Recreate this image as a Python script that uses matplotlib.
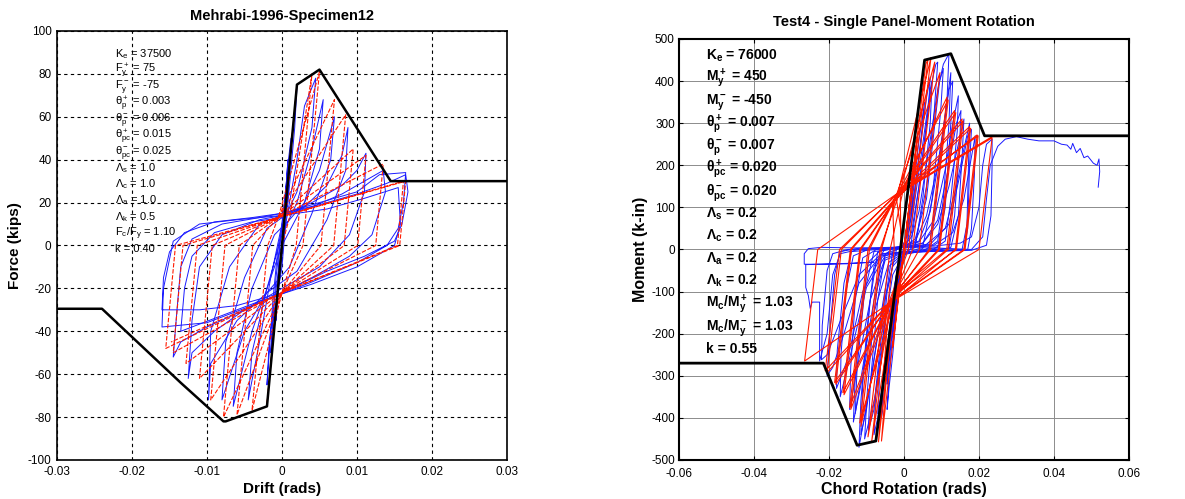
import matplotlib
matplotlib.use("Agg")
import matplotlib.pyplot as plt

plt.rcParams['font.family'] = ['Liberation Sans', 'DejaVu Sans']
plt.rcParams['mathtext.default'] = 'regular'
plt.rcParams['axes.unicode_minus'] = False

# --- Mehrabi-1996-Specimen12 -------------------------------------------
left_backbone_x = [-0.03, -0.024, -0.0135, -0.0078, -0.0075, -0.002, 0.002, 0.005, 0.0145, 0.03]
left_backbone_y = [-29.5, -29.5, -64, -82, -82, -75, 75, 82, 30, 30]

# experimental loops (blue), one list per cycle
left_blue = [
    [(0, 0), (0.0004, 20), (0.0008, 40), (0.0006, 30), (0.0, 10), (-0.0004, -5), (-0.0008, -35),
     (-0.0006, -25), (0.0, -5), (0.0004, 15)],
    [(0.0004, 15), (0.0008, 38), (0.0012, 50), (0.0011, 40), (0.0, 10), (-0.0008, -15), (-0.0015, -50),
     (-0.0012, -35), (0.0, -10), (0.0006, 15)],
    [(0.0006, 15), (0.0012, 45), (0.002, 74), (0.0017, 55), (0.0008, 20), (-0.0005, 0), (-0.0012, -25),
     (-0.002, -65), (-0.0017, -45), (-0.0006, -15), (0.0005, 10)],
    [(0.0005, 10), (0.002, 40), (0.003, 65), (0.0045, 78), (0.004, 55), (0.002, 25), (0.0, 10),
     (-0.0015, -15), (-0.003, -45), (-0.0045, -72), (-0.004, -50), (-0.002, -20), (0.0, 5)],
    [(0.0, 5), (0.002, 20), (0.004, 45), (0.0055, 68), (0.005, 45), (0.003, 20), (0.0, 0), (-0.002, -20),
     (-0.004, -40), (-0.0065, -75), (-0.006, -50), (-0.004, -20), (-0.001, 5), (0.001, 12)],
    [(0.001, 12), (0.003, 20), (0.005, 35), (0.007, 60), (0.0065, 40), (0.004, 15), (0.001, -10),
     (-0.002, -22), (-0.005, -40), (-0.008, -72), (-0.0075, -45), (-0.005, -15), (-0.002, 8), (0.0, 13)],
    [(0.0, 13), (0.003, 18), (0.006, 28), (0.008, 42), (0.0088, 55), (0.0085, 35), (0.006, 12),
     (0.002, -12), (-0.002, -22), (-0.006, -35), (-0.0095, -55), (-0.0098, -72), (-0.0095, -40),
     (-0.007, -10), (-0.003, 10), (0.0, 14)],
    [(0.0, 14), (0.004, 20), (0.008, 28), (0.010, 35), (0.0112, 43), (0.011, 25), (0.009, 5),
     (0.005, -10), (0.0, -20), (-0.005, -30), (-0.009, -40), (-0.012, -50), (-0.0125, -62),
     (-0.012, -35), (-0.011, -10), (-0.008, 5), (-0.003, 12), (0.0, 14)],
    [(0.0, 14), (0.004, 18), (0.008, 24), (0.011, 30), (0.0135, 35), (0.0138, 25), (0.012, 5),
     (0.009, -5), (0.004, -15), (0.0, -22), (-0.005, -30), (-0.010, -38), (-0.0135, -45),
     (-0.0145, -52), (-0.014, -30), (-0.0135, -10), (-0.012, 3), (-0.008, 10), (-0.003, 13), (0.0, 15)],
    [(0.0, 15), (0.005, 19), (0.010, 24), (0.014, 29), (0.0165, 33), (0.0168, 25), (0.016, 10),
     (0.015, 2), (0.011, -5), (0.006, -12), (0.0, -22), (-0.006, -28), (-0.011, -30), (-0.016, -30),
     (-0.0158, -15), (-0.015, -3), (-0.013, 6), (-0.009, 11), (-0.004, 13), (0.0, 15), (0.005, 20),
     (0.010, 25), (0.013, 33), (0.0165, 34), (0.0162, 20), (0.0155, 8), (0.014, 0), (0.01, -8),
     (0.004, -17), (-0.004, -28), (-0.01, -36), (-0.016, -38), (-0.0158, -20)],
    [(-0.0158, -20), (-0.0145, 2), (-0.011, 10), (-0.006, 12), (0.0, 14), (0.006, 17), (0.011, 22),
     (0.0155, 27), (0.0158, 10), (0.015, 0), (0.01, -10), (0.004, -18), (-0.003, -26), (-0.009, -34),
     (-0.0135, -40), (-0.013, -20), (-0.012, -5), (-0.009, 6), (-0.004, 11), (0.0, 13)],
]

# model (red, dashed)
left_red = [
    (0.0, 0), (0.002, 75), (0.0, 0), (-0.002, -74), (0.0, 0), (0.001, 13), (0.004, 80), (0.0019, 0),
    (0.0, -22), (-0.004, -77), (-0.0019, 0), (-0.0005, 13), (0.005, 81), (0.0028, 0), (0.0, -22),
    (-0.006, -79), (-0.0039, 0), (-0.0005, 13), (0.007, 68), (0.0052, 0), (0.0, -22), (-0.0078, -80),
    (-0.0057, 0), (-0.0005, 13), (0.0085, 61), (0.0069, 0), (0.0, -22), (-0.0095, -72), (-0.0076, 0),
    (-0.0005, 13), (0.0095, 45), (0.0083, 0), (0.0, -22), (-0.011, -62), (-0.0093, 0), (-0.0005, 13),
    (0.0112, 42), (0.0101, 0), (0.0, -22), (-0.0128, -55), (-0.0113, 0), (-0.0005, 13), (0.0135, 38),
    (0.0125, 0), (0.0, -22), (-0.0145, -50), (-0.0132, 0), (-0.0005, 13), (0.0165, 30), (0.0157, 0),
    (0.0, -22), (-0.0155, -48), (-0.0142, 0), (-0.0005, 13), (0.0162, 30), (0.0154, 0), (0.0, -22),
    (-0.0148, -45),
]

left_labels = [r'K$_e$ = 37500', r'F$^+_y$ = 75', r'F$^-_y$ = -75', r'θ$^+_p$ = 0.003',
               r'θ$^-_p$ = 0.006', r'θ$^+_{pc}$ = 0.015', r'θ$^-_{pc}$ = 0.025', r'Λ$_s$ = 1.0',
               r'Λ$_c$ = 1.0', r'Λ$_a$ = 1.0', r'Λ$_k$ = 0.5', r'F$_c$/F$_y$ = 1.10', 'k = 0.40']

# --- Test4 - Single Panel-Moment Rotation -------------------------------
right_backbone_x = [-0.06, -0.0215, -0.0125, -0.0075, 0.0055, 0.0125, 0.0215, 0.06]
right_backbone_y = [-270, -270, -465, -455, 450, 465, 270, 270]

right_blue = [
    [(0, 0), (0.001, 60), (0.002, 130), (0.003, 200), (0.002, 120), (0.0, 0), (-0.0015, -100),
     (-0.003, -200), (-0.002, -120), (0.0, 0)],
    [(0.0, 0), (0.002, 100), (0.004, 260), (0.0055, 350), (0.005, 300), (0.003, 150), (0.001, 20),
     (-0.001, -30), (-0.003, -180), (-0.0045, -320), (-0.004, -250), (-0.002, -100), (0.0, 10)],
    [(0.0, 10), (0.002, 80), (0.004, 220), (0.006, 360), (0.007, 410), (0.0065, 330), (0.004, 150),
     (0.002, 20), (0.0, -20), (-0.002, -100), (-0.004, -250), (-0.0055, -360), (-0.006, -400),
     (-0.0055, -320), (-0.003, -120), (-0.001, 0), (0.0, 15)],
    [(0.0, 5), (0.002, 40), (0.004, 150), (0.006, 300), (0.0075, 400), (0.007, 300), (0.005, 120),
     (0.003, 5), (0.0, -8), (-0.002, -60), (-0.004, -200), (-0.006, -340), (-0.007, -390),
     (-0.0065, -300), (-0.0045, -100), (-0.002, 0), (0.0, 6)],
    [(0.0, 15), (0.002, 60), (0.005, 250), (0.007, 380), (0.0085, 440), (0.009, 445), (0.008, 320),
     (0.006, 150), (0.003, 10), (0.0, -10), (-0.002, -80), (-0.005, -280), (-0.007, -400),
     (-0.008, -440), (-0.0075, -330), (-0.005, -120), (-0.003, -5), (0.0, 8)],
    [(0.0, 6), (0.003, 25), (0.006, 120), (0.008, 280), (0.0095, 400), (0.0105, 430), (0.0098, 330),
     (0.0075, 120), (0.005, 5), (0.0, -10), (-0.003, -60), (-0.006, -230), (-0.008, -380),
     (-0.0095, -430), (-0.009, -320), (-0.007, -120), (-0.005, -10), (0.0, 7)],
    [(0.0, 8), (0.002, 30), (0.004, 90), (0.007, 260), (0.009, 380), (0.0105, 440), (0.012, 465),
     (0.0115, 360), (0.009, 150), (0.007, 20), (0.004, -5), (0.0, -12), (-0.002, -60), (-0.005, -200),
     (-0.008, -360), (-0.0105, -450), (-0.0098, -340), (-0.008, -150), (-0.006, -20), (-0.003, 3),
     (0.0, 10)],
    [(0.0, 7), (0.004, 20), (0.007, 90), (0.010, 250), (0.012, 380), (0.013, 400), (0.0125, 300),
     (0.011, 100), (0.009, 5), (0.0, -8), (-0.004, -40), (-0.007, -200), (-0.01, -380),
     (-0.0115, -440), (-0.011, -320), (-0.009, -120), (-0.007, -5), (0.0, 6)],
    [(0.0, 10), (0.003, 20), (0.006, 80), (0.009, 200), (0.011, 320), (0.0125, 420), (0.012, 300),
     (0.0105, 120), (0.009, 20), (0.005, -5), (0.0, -10), (-0.003, -40), (-0.006, -150),
     (-0.009, -320), (-0.012, -470), (-0.0115, -360), (-0.010, -200), (-0.008, -40), (-0.005, 2),
     (0.0, 8)],
    [(0.0, 8), (0.004, 18), (0.008, 70), (0.011, 190), (0.013, 300), (0.0145, 365), (0.0142, 280),
     (0.0125, 120), (0.011, 20), (0.007, -5), (0.0, -8), (-0.004, -30), (-0.008, -150),
     (-0.011, -300), (-0.0135, -410), (-0.013, -300), (-0.0115, -150), (-0.0095, -30), (-0.006, 0),
     (0.0, 6)],
    [(0.0, 6), (0.005, 15), (0.009, 70), (0.012, 200), (0.014, 300), (0.0152, 330), (0.0148, 240),
     (0.0135, 80), (0.012, 3), (0.0, -7), (-0.005, -25), (-0.008, -120), (-0.011, -280),
     (-0.013, -390), (-0.0125, -280), (-0.0105, -100), (-0.008, -5), (0.0, 5)],
    [(0.0, 6), (0.005, 15), (0.009, 60), (0.012, 150), (0.0145, 250), (0.016, 310), (0.0155, 220),
     (0.0145, 80), (0.0125, 5), (0.008, -4), (0.0, -6), (-0.005, -20), (-0.009, -120), (-0.012, -260),
     (-0.0145, -380), (-0.0142, -280), (-0.013, -120), (-0.011, -20), (-0.007, 2), (0.0, 5)],
    [(0.0, 5), (0.006, 12), (0.011, 50), (0.014, 150), (0.016, 240), (0.0175, 300), (0.0172, 200),
     (0.0168, 60), (0.0155, 0), (0.010, -4), (0.0, -5), (-0.005, -15), (-0.010, -90), (-0.014, -240),
     (-0.017, -350), (-0.0168, -250), (-0.0155, -100), (-0.0135, -15), (-0.009, 2), (0.0, 5)],
    [(0.0, 5), (0.007, 12), (0.012, 60), (0.015, 180), (0.017, 270), (0.018, 285), (0.0175, 200),
     (0.017, 50), (0.016, 0), (0.0, -6), (-0.006, -15), (-0.011, -100), (-0.015, -260),
     (-0.018, -330), (-0.0178, -240), (-0.016, -80), (-0.014, -5), (0.0, 5)],
    [(0.0, 5), (0.008, 10), (0.013, 40), (0.016, 120), (0.018, 220), (0.019, 270), (0.0188, 180),
     (0.018, 50), (0.017, 0), (0.012, -3), (0.0, -5), (-0.006, -12), (-0.012, -80), (-0.016, -200),
     (-0.019, -280), (-0.0205, -300), (-0.0198, -200), (-0.0185, -60), (-0.017, -5), (-0.012, 3),
     (0.0, 6)],
    [(0.0, 6), (0.008, 8), (0.015, 15), (0.018, 30), (0.02, 100), (0.021, 200), (0.022, 250),
     (0.0235, 262), (0.0235, 200), (0.0232, 80), (0.022, 10), (0.018, -2), (0.01, -4), (0.0, -6),
     (-0.006, -10), (-0.012, -60), (-0.017, -170), (-0.0205, -250), (-0.022, -262), (-0.0218, -180),
     (-0.0205, -50), (-0.019, -10), (-0.015, 0), (-0.005, 3)],
    [(-0.005, 3), (-0.015, 4), (-0.022, 5), (-0.0255, 2), (-0.0266, -10), (-0.0266, -35),
     (-0.022, -35), (-0.015, -34), (-0.008, -30), (-0.015, -33), (-0.0262, -36), (-0.0262, -90),
     (-0.0255, -110), (-0.025, -140), (-0.0245, -125), (-0.0225, -125), (-0.0225, -265),
     (-0.0205, -200), (-0.019, -60), (-0.017, -10), (-0.012, 0)],
    [(-0.012, 0), (0.0, 5), (0.01, 3), (0.018, 0), (0.021, 30), (0.022, 120), (0.023, 200),
     (0.025, 245), (0.027, 262), (0.03, 268), (0.033, 262), (0.036, 258), (0.04, 258), (0.042, 250),
     (0.0435, 248), (0.0445, 238), (0.045, 252), (0.046, 230), (0.047, 240), (0.048, 218),
     (0.049, 222), (0.0505, 205), (0.0515, 200), (0.052, 215), (0.0522, 185), (0.0518, 148)],
    [(0.0, 5), (-0.001, -50), (-0.002, -150), (-0.003, -250), (-0.004, -330), (-0.0045, -380),
     (-0.004, -300), (-0.0025, -150), (-0.001, -40), (0.0, 10), (0.002, 120), (0.003, 200)],
]

right_red = [
    (0.0, 0), (0.0035, 262), (0.0, 0), (-0.003, -232), (0.0, 0), (0.0058, 440), (0.0064, 452),
    (0.0005, 0), (-0.003, -110), (-0.006, -455), (-0.0001, 0), (-0.002, 120), (0.0072, 456),
    (0.0012, 0), (-0.004, -125), (-0.0068, -457), (-0.0008, 0), (-0.001, 140), (0.0082, 445),
    (0.0023, 0), (-0.002, -95), (-0.0086, -455), (-0.0026, 0), (-0.003, 105), (0.0096, 420),
    (0.0041, 0), (-0.003, -112), (-0.0096, -445), (-0.0037, 0), (0.0, 150), (0.0115, 362),
    (0.0067, 0), (-0.004, -125), (-0.0115, -420), (-0.006, 0), (-0.002, 128), (0.0118, 355),
    (0.0071, 0), (-0.002, -100), (-0.0118, -412), (-0.0064, 0), (-0.001, 140), (0.0135, 330),
    (0.0092, 0), (-0.003, -114), (-0.0142, -380), (-0.0092, 0), (-0.003, 110), (0.0138, 325),
    (0.0095, 0), (-0.004, -128), (-0.0145, -375), (-0.0096, 0), (-0.002, 130), (0.0155, 310),
    (0.0114, 0), (-0.002, -100), (-0.016, -345), (-0.0115, 0), (0.0, 148), (0.0158, 305),
    (0.0118, 0), (-0.003, -116), (-0.0163, -340), (-0.0118, 0), (-0.001, 135), (0.0175, 292),
    (0.0137, 0), (-0.004, -130), (-0.0182, -320), (-0.014, 0), (-0.003, 112), (0.0178, 288),
    (0.014, 0), (-0.002, -104), (-0.0185, -316), (-0.0143, 0), (-0.002, 125), (0.0195, 272),
    (0.016, 0), (-0.003, -120), (-0.0205, -292), (-0.0167, 0), (-0.001, 140), (0.0198, 270),
    (0.0163, 0), (-0.004, -128), (-0.021, -288), (-0.0172, 0), (-0.002, 130), (0.0235, 265),
    (0.02, 0), (-0.003, -122), (-0.0265, -265), (-0.023, 0), (-0.001, 138), (0.0235, 268),
    (0.0525, 270),
]

right_labels = [r'K$_e$ = 76000', r'M$^+_y$ = 450', r'M$^-_y$ = -450', r'θ$^+_p$ = 0.007',
                r'θ$^-_p$ = 0.007', r'θ$^+_{pc}$ = 0.020', r'θ$^-_{pc}$ = 0.020', r'Λ$_s$ = 0.2',
                r'Λ$_c$ = 0.2', r'Λ$_a$ = 0.2', r'Λ$_k$ = 0.2', r'M$_c$/M$^+_y$ = 1.03',
                r'M$_c$/M$^-_y$ = 1.03', 'k = 0.55']


def xy(points):
    return [p[0] for p in points], [p[1] for p in points]


fig = plt.figure(figsize=(11.85, 4.99), dpi=100)
ax1 = fig.add_axes([0.0481, 0.0782, 0.3797, 0.8597])
ax2 = fig.add_axes([0.5730, 0.0782, 0.3797, 0.8437])

# 1) left panel
for cyc in left_blue:
    x, y = xy(cyc)
    ax1.plot(x, y, color='#1a1aff', lw=0.7)
x, y = xy(left_red)
ax1.plot(x, y, color='#ff1a00', lw=0.8, ls=(0, (4, 1.5)))
ax1.plot(left_backbone_x, left_backbone_y, color='black', lw=1.8)

ax1.set_xlim(-0.03, 0.03)
ax1.set_ylim(-100, 100)
ax1.set_xticks([-0.03, -0.02, -0.01, 0, 0.01, 0.02, 0.03])
ax1.set_xticklabels(['-0.03', '-0.02', '-0.01', '0', '0.01', '0.02', '0.03'])
ax1.set_yticks(range(-100, 101, 20))
ax1.tick_params(length=0, labelsize=8.5, pad=4)
ax1.grid(True, color='black', ls=(0, (3, 3)), lw=0.8)
for s in ax1.spines.values():
    s.set_linewidth(1.2)
ax1.set_title('Mehrabi-1996-Specimen12', fontsize=10.5, fontweight='bold', pad=8)
ax1.set_xlabel('Drift (rads)', fontsize=11, fontweight='bold', labelpad=3)
ax1.set_ylabel('Force (kips)', fontsize=11, fontweight='bold', labelpad=4)
for i, lab in enumerate(left_labels):
    ax1.text(-0.0223, 88 - i * 7.6, lab, fontsize=8, va='baseline', ha='left')

# 2) right panel
for cyc in right_blue:
    x, y = xy(cyc)
    ax2.plot(x, y, color='#1a1aff', lw=0.7)
x, y = xy(right_red)
ax2.plot(x, y, color='#ff1a00', lw=0.8)
ax2.plot(right_backbone_x, right_backbone_y, color='black', lw=2)

ax2.set_xlim(-0.06, 0.06)
ax2.set_ylim(-500, 500)
ax2.set_xticks([-0.06, -0.04, -0.02, 0, 0.02, 0.04, 0.06])
ax2.set_xticklabels(['-0.06', '-0.04', '-0.02', '0', '0.02', '0.04', '0.06'])
ax2.set_yticks(range(-500, 501, 100))
ax2.tick_params(direction='in', top=True, right=True, length=3, labelsize=8.5, pad=3)
ax2.tick_params(axis='x', pad=6)
ax2.grid(True, color='0.55', lw=0.7)
for s in ax2.spines.values():
    s.set_linewidth(1.5)
ax2.set_title('Test4 - Single Panel-Moment Rotation', fontsize=10.5, fontweight='bold', pad=9)
ax2.set_xlabel('Chord Rotation (rads)', fontsize=11.5, fontweight='bold', labelpad=1)
ax2.set_ylabel('Moment (k-in)', fontsize=11.5, fontweight='bold', labelpad=2)
for i, lab in enumerate(right_labels):
    ax2.text(-0.0529, 452 - i * 53.6, lab, fontsize=10, fontweight='bold', va='baseline', ha='left')

fig.savefig('out.png', dpi=100)
